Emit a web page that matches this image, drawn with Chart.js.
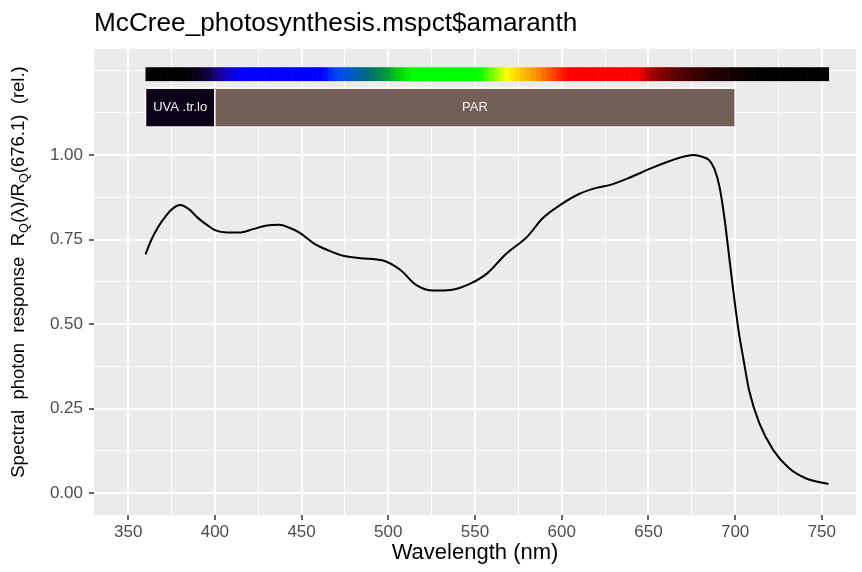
<!DOCTYPE html>
<html>
<head>
<meta charset="utf-8">
<title>McCree photosynthesis - amaranth</title>
<script src="https://cdn.jsdelivr.net/npm/chart.js@4.4.1/dist/chart.umd.min.js"></script>
<style>
  body { margin: 0; background: #fff; }
  #wrap { width: 862px; height: 572px; }
</style>
</head>
<body>
<div id="wrap"><canvas id="myChart" width="862" height="572"></canvas></div>
<script>
// data //

var wavelengths = [360, 363, 367, 372, 376, 380, 385, 390, 395, 400, 407, 414, 422, 430, 437, 443, 449,
  457, 466, 474, 484, 497, 507, 516, 526, 536, 547, 557, 568, 580, 589, 599, 610, 620, 628, 639,
  651, 660, 670, 676, 681, 685, 688, 691, 694, 697, 700, 702, 705, 708, 714, 722, 731, 741, 753.8];
var response = [0.706, 0.745, 0.785, 0.822, 0.843, 0.852, 0.840, 0.815, 0.795, 0.778, 0.771, 0.771, 0.781,
  0.792, 0.794, 0.785, 0.770, 0.739, 0.717, 0.702, 0.695, 0.688, 0.660, 0.616, 0.599, 0.601, 0.619,
  0.650, 0.708, 0.758, 0.813, 0.852, 0.885, 0.903, 0.912, 0.933, 0.960, 0.978, 0.995, 1.000, 0.995,
  0.985, 0.960, 0.906, 0.808, 0.680, 0.555, 0.480, 0.390, 0.305, 0.206, 0.127, 0.074, 0.043, 0.027];

var xMajor = [350, 400, 450, 500, 550, 600, 650, 700, 750];
var xMinor = [375, 425, 475, 525, 575, 625, 675, 725];
var yMajor = [0, 0.25, 0.5, 0.75, 1];
var yMinor = [0.125, 0.375, 0.625, 0.875, 1.125, 1.25];

// wavebands drawn as boxes above the curve
var bandNames = ['UVA .tr.lo', 'PAR'];
var bandLow = [360, 400];
var bandHigh = [400, 700];
var bandFill = ['#0b0419', '#745e58'];

var FONT = '"Liberation Sans", Arial, Helvetica, sans-serif';

// colour of light for a wavelength (rough copy of the bar in the figure)
var specStops = [
  [360, [0, 0, 0]], [384, [0, 0, 0]], [392, [12, 0, 40]], [398, [20, 0, 90]], [405, [20, 0, 180]],
  [414, [5, 0, 255]], [462, [0, 0, 255]], [468, [0, 60, 255]], [478, [0, 90, 200]], [488, [0, 105, 120]],
  [498, [0, 150, 60]], [506, [0, 210, 10]], [514, [0, 255, 0]], [552, [0, 255, 0]], [560, [120, 255, 0]],
  [568, [255, 255, 0]], [576, [255, 200, 0]], [586, [255, 140, 0]], [596, [255, 60, 0]], [604, [255, 0, 0]],
  [644, [255, 0, 0]], [652, [160, 0, 0]], [666, [90, 0, 0]], [685, [40, 0, 0]], [705, [10, 0, 0]],
  [720, [0, 0, 0]], [760, [0, 0, 0]]
];

function wlColour(w) {
  for (var i = 1; i < specStops.length; i++) {
    if (w <= specStops[i][0]) {
      var a = specStops[i - 1], b = specStops[i];
      var t = (w - a[0]) / (b[0] - a[0]);
      var c = a[1].map(function (v, k) { return Math.round(v + (b[1][k] - v) * t); });
      return 'rgb(' + c.join(',') + ')';
    }
  }
  return '#000';
}

function isMajorX(v) { return xMajor.indexOf(v) >= 0; }
function isMajorY(v) { return yMajor.some(function (m) { return Math.abs(m - v) < 1e-9; }); }

// grey panel, colour bar, waveband boxes, titles
var ggPlugin = {
  id: 'gg',
  beforeDraw: function (chart) {
    var ctx = chart.ctx, a = chart.chartArea;
    ctx.save();
    ctx.fillStyle = '#ffffff';
    ctx.fillRect(0, 0, chart.width, chart.height);
    ctx.fillStyle = '#ebebeb';
    ctx.fillRect(a.left, a.top, a.right - a.left, a.bottom - a.top);
    ctx.restore();
  },
  beforeDatasetsDraw: function (chart) {
    var ctx = chart.ctx, x = chart.scales.x, y = chart.scales.y;
    ctx.save();
    // colour bar, in small steps like the original
    var w0 = wavelengths[0], w1 = wavelengths[wavelengths.length - 1];
    var yt = y.getPixelForValue(1.260), yb = y.getPixelForValue(1.219);
    for (var w = w0; w < w1; w += 3) {
      var xl = x.getPixelForValue(w), xr = x.getPixelForValue(Math.min(w + 3, w1));
      ctx.fillStyle = wlColour(w + 1.5);
      ctx.fillRect(xl, yt, xr - xl + 0.6, yb - yt);
    }
    // waveband boxes
    var bt = y.getPixelForValue(1.198), bb = y.getPixelForValue(1.083);
    for (var i = 0; i < bandNames.length; i++) {
      var l = x.getPixelForValue(bandLow[i]), r = x.getPixelForValue(bandHigh[i]);
      ctx.fillStyle = bandFill[i];
      ctx.fillRect(l, bt, r - l, bb - bt);
      ctx.strokeStyle = '#ffffff';
      ctx.lineWidth = 1.5;
      ctx.strokeRect(l, bt, r - l, bb - bt);
      ctx.fillStyle = '#f2f2f2';
      ctx.font = '13px ' + FONT;
      ctx.textAlign = 'center';
      ctx.textBaseline = 'middle';
      ctx.fillText(bandNames[i], (l + r) / 2, (bt + bb) / 2);
    }
    ctx.restore();
  },
  afterDraw: function (chart) {
    var ctx = chart.ctx, a = chart.chartArea;
    ctx.save();
    // main title
    ctx.fillStyle = '#000';
    ctx.font = '26.2px ' + FONT;
    ctx.textAlign = 'left';
    ctx.textBaseline = 'alphabetic';
    ctx.fillText('McCree_photosynthesis.mspct$amaranth', a.left, 31);
    // y axis title with subscripts
    var parts = [['Spectral  photon  response  R', 0], ['Q', 1], ['(\u03bb)/R', 0], ['Q', 1], ['(676.1)  (rel.)', 0]];
    var big = 18.5, small = 12.7;
    var total = 0;
    parts.forEach(function (p) {
      ctx.font = (p[1] ? small : big) + 'px ' + FONT;
      total += ctx.measureText(p[0]).width;
    });
    ctx.translate(19, 272);
    ctx.rotate(-Math.PI / 2);
    ctx.textBaseline = 'middle';
    var pos = -total / 2;
    parts.forEach(function (p) {
      ctx.font = (p[1] ? small : big) + 'px ' + FONT;
      ctx.fillText(p[0], pos, p[1] ? 5 : 0);
      pos += ctx.measureText(p[0]).width;
    });
    ctx.restore();
  }
};

var points = wavelengths.map(function (w, i) { return { x: w, y: response[i] }; });

var ctx = document.getElementById('myChart').getContext('2d');
var myChart = new Chart(ctx, {
  type: 'line',
  data: {
    datasets: [{
      label: 'amaranth',
      data: points,
      borderColor: '#000000',
      borderWidth: 2,
      pointRadius: 0,
      fill: false,
      cubicInterpolationMode: 'monotone'
    }]
  },
  options: {
    responsive: false,
    devicePixelRatio: 1,
    animation: false,
    layout: { padding: { top: 49, right: 6, left: 0, bottom: 0 } },
    plugins: { legend: { display: false }, tooltip: { enabled: false }, title: { display: false } },
    scales: {
      x: {
        type: 'linear',
        min: 330.3,
        max: 769.7,
        afterBuildTicks: function (s) {
          s.ticks = xMajor.concat(xMinor).sort(function (a, b) { return a - b; }).map(function (v) { return { value: v }; });
        },
        afterFit: function (s) { s.height = 57; },
        ticks: {
          autoSkip: false, maxRotation: 0, padding: 2,
          color: '#4d4d4d', font: { family: FONT, size: 17 },
          callback: function (v) { return isMajorX(v) ? String(v) : ''; }
        },
        grid: {
          color: '#ffffff',
          lineWidth: function (c) { return isMajorX(c.tick.value) ? 2 : 1; },
          tickLength: 5,
          tickWidth: 1.5,
          tickColor: function (c) { return isMajorX(c.tick.value) ? '#333333' : 'rgba(0,0,0,0)'; }
        },
        border: { display: false },
        title: {
          display: true, text: 'Wavelength (nm)', color: '#000',
          font: { family: FONT, size: 22 }, padding: { top: 0, bottom: 6 }
        }
      },
      y: {
        type: 'linear',
        min: -0.065,
        max: 1.314,
        afterBuildTicks: function (s) {
          s.ticks = yMajor.concat(yMinor).sort(function (a, b) { return a - b; }).map(function (v) { return { value: v }; });
        },
        afterFit: function (s) { s.width = 94; },
        ticks: {
          autoSkip: false, padding: 6,
          color: '#4d4d4d', font: { family: FONT, size: 17 },
          callback: function (v) { return isMajorY(v) ? v.toFixed(2) : ''; }
        },
        grid: {
          color: '#ffffff',
          lineWidth: function (c) { return isMajorY(c.tick.value) ? 2 : 1; },
          tickLength: 5,
          tickWidth: 1.5,
          tickColor: function (c) { return isMajorY(c.tick.value) ? '#333333' : 'rgba(0,0,0,0)'; }
        },
        border: { display: false }
      }
    }
  },
  plugins: [ggPlugin]
});
</script>
</body>
</html>
